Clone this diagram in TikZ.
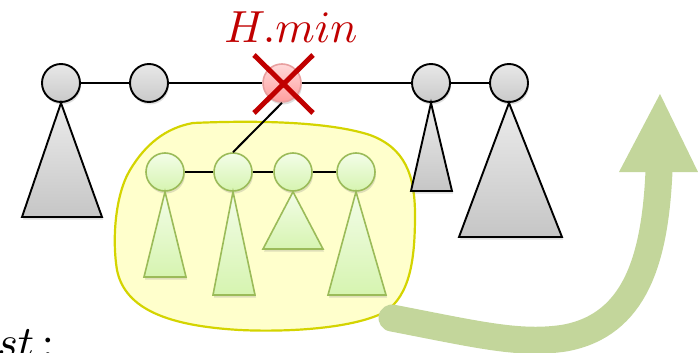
\documentclass[tikz,border=0pt]{standalone}
\usetikzlibrary{shadows}
\definecolor{hred}{HTML}{C00000}
\definecolor{gborder}{HTML}{9BBB59}
\definecolor{gtop}{HTML}{F3FDE8}
\definecolor{gbot}{HTML}{D6F4B0}
\definecolor{blobfill}{HTML}{FFFFCC}
\definecolor{blobline}{HTML}{D4D400}
\definecolor{arrowgreen}{HTML}{C3D69B}
\definecolor{pinkline}{HTML}{E8A0A0}
\tikzset{
  myshadow/.style={drop shadow={opacity=0.25,shadow xshift=1pt,shadow yshift=-2.5pt}},
  grayroot/.style={circle,minimum size=38pt,inner sep=0pt,draw=black,line width=1.9pt,
    top color=gray!18,bottom color=gray!42,myshadow},
  greenroot/.style={circle,minimum size=38pt,inner sep=0pt,draw=gborder,line width=1.6pt,
    top color=gtop,bottom color=gbot,myshadow},
  minroot/.style={circle,minimum size=38pt,inner sep=0pt,draw=pinkline,line width=1.6pt,
    top color=red!15,bottom color=red!38,myshadow},
  graytri/.style={draw=black,line width=1.9pt,line join=miter,top color=gray!15,bottom color=gray!45,myshadow},
  greentri/.style={draw=gborder,line width=1.6pt,top color=gtop,bottom color=gbot,myshadow},
  link/.style={draw=black,line width=2pt},
  cross/.style={draw=hred,line width=5pt},
  bigarrow/.style={draw=arrowgreen,line width=27pt,line cap=round},
  bigtext/.style={scale=4.5,inner sep=0pt}
}
\begin{document}
\begin{tikzpicture}[x=1pt,y=-1pt]
\useasboundingbox (0,0) rectangle (698,353);
\clip (0,0) rectangle (698,353);
% yellow blob
\path[fill=blobfill,draw=blobline,line width=2.2pt]
  (193,123) .. controls (260,120) and (330,122) .. (370,135)
  .. controls (405,148) and (415,175) .. (415,215)
  .. controls (415,260) and (410,295) .. (385,312)
  .. controls (350,330) and (280,332) .. (240,330)
  .. controls (170,326) and (125,310) .. (117,270)
  .. controls (112,240) and (115,195) .. (130,170)
  .. controls (145,145) and (165,128) .. (193,123) -- cycle;
% big green arrow
\coordinate (as) at (392,318);
\coordinate (ae) at (659,171);
\coordinate (al) at (619,172);
\coordinate (ar) at (698,172);
\coordinate (at) at (660,94);
\draw[bigarrow] (as) .. controls (480,335) and (520,345) .. (565,338)
  .. controls (635,325) and (655,260) .. (ae);
\fill[arrowgreen] (al) -- (ar) -- (at) -- cycle;
% root list nodes
\node[grayroot] (r1) at (61,83) {};
\node[grayroot] (r2) at (149,83) {};
\node[minroot] (h) at (282,83) {};
\node[grayroot] (r4) at (431,83) {};
\node[grayroot] (r5) at (509,83) {};
% children
\node[greenroot] (c1) at (165,172) {};
\node[greenroot] (c2) at (233,172) {};
\node[greenroot] (c3) at (293,172) {};
\node[greenroot] (c4) at (356,172) {};
% links
\draw[link] (r1) -- (r2);
\draw[link] (r2) -- (h);
\draw[link] (h) -- (r4);
\draw[link] (r4) -- (r5);
\draw[link] (h.south) -- (c2.north);
\draw[link] (c1) -- (c2);
\draw[link] (c2) -- (c3);
\draw[link] (c3) -- (c4);
% gray trees
\path[graytri] (r1.south) -- (102,217) -- (22,217) -- cycle;
\path[graytri] (r4.south) -- (452,191) -- (411,191) -- cycle;
\path[graytri] (r5.south) -- (562,237) -- (459,237) -- cycle;
% green trees
\path[greentri] (c1.south) -- (186,277) -- (144,277) -- cycle;
\path[greentri] (c2.south) -- (255,295) -- (213,295) -- cycle;
\path[greentri] (c3.south) -- (323,249) -- (263,249) -- cycle;
\path[greentri] (c4.south) -- (386,295) -- (328,295) -- cycle;
% cross
\coordinate (x1) at (254,55);
\coordinate (x2) at (313,113);
\coordinate (x3) at (313,55);
\coordinate (x4) at (254,113);
\draw[cross] (x1) -- (x2);
\draw[cross] (x3) -- (x4);
% texts
\node[bigtext,text=hred,anchor=base] (lbl) at (291,42) {$H.min$};
\node[bigtext,anchor=base west] (cost) at (-4,357) {$st\,{:}$};
\end{tikzpicture}
\end{document}
